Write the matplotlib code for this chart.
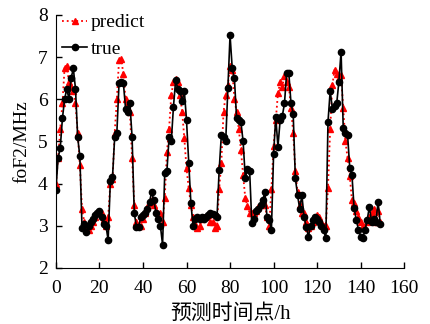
import numpy as np
import matplotlib
matplotlib.use("Agg")
from matplotlib import pyplot as plt

# foF2 观测值（true）与预测值（predict）
true_vals = [
    3.85, 4.6, 4.85, 5.55, 6.0, 6.25, 6.0, 6.5, 6.73, 6.25,
    5.1, 4.65, 2.95, 3.05, 2.85, 3.0, 3.1, 3.15, 3.25, 3.3,
    3.35, 3.2, 3.05, 3.0, 2.66, 4.05, 4.15, 5.1, 5.2, 6.38,
    6.42, 6.38, 5.78, 5.7, 5.9, 5.1, 3.3, 2.98, 2.98, 3.2,
    3.25, 3.3, 3.4, 3.57, 3.8, 3.6, 3.3, 3.15, 3.0, 2.55,
    4.25, 4.3, 5.1, 5.0, 5.82, 6.45, 6.25, 6.2, 5.95, 6.2,
    5.5, 4.5, 3.54, 3.0, 3.15, 3.2, 3.15, 3.2, 3.15, 3.2,
    3.25, 3.3, 3.28, 3.25, 3.2, 4.32, 5.15, 5.1, 5.0, 6.26,
    7.52, 6.73, 6.5, 5.55, 5.5, 5.45, 5.0, 4.13, 4.35, 4.3,
    3.06, 3.17, 3.35, 3.4, 3.5, 3.6, 3.8, 3.2, 3.14, 2.9,
    4.7, 5.58, 4.87, 5.5, 5.6, 5.9, 6.62, 6.62, 5.9, 5.66,
    4.13, 3.73, 3.4, 3.73, 3.2, 2.98, 2.74, 3.0, 3.14, 3.2,
    3.15, 3.1, 3.0, 2.9, 2.7, 5.47, 6.2, 5.78, 5.83, 5.9,
    6.42, 7.13, 5.31, 5.2, 5.15, 4.36, 4.2, 3.41, 3.14, 2.9,
    2.74, 2.7, 2.9, 3.14, 3.45, 3.1, 3.15, 3.1, 3.57, 3.05,
]
predict_vals = [
    4.0, 4.6, 5.3, 5.9, 6.75, 6.8, 6.4, 6.3, 6.2, 5.9,
    5.2, 4.45, 3.4, 3.1, 2.95, 2.9, 3.0, 3.1, 3.2, 3.3,
    3.35, 3.3, 3.15, 3.0, 3.2, 4.0, 4.1, 5.2, 6.0, 6.93,
    6.95, 6.6, 6.0, 5.9, 5.7, 4.6, 3.5, 3.1, 3.0, 3.0,
    3.15, 3.3, 3.45, 3.55, 3.6, 3.5, 3.35, 3.2, 3.3, 3.1,
    3.65, 4.76, 5.3, 6.1, 6.4, 6.48, 6.4, 6.1, 5.7, 5.07,
    4.36, 3.9, 3.5, 3.2, 3.05, 2.95, 3.0, 3.15, 3.2, 3.2,
    3.25, 3.1, 3.1, 2.95, 3.0, 3.88, 4.5, 5.7, 6.1, 6.33,
    6.8, 6.7, 6.0, 5.7, 5.3, 4.8, 4.2, 3.65, 3.47, 3.3,
    3.3, 3.3, 3.35, 3.45, 3.5, 3.6, 3.5, 3.2, 3.0, 3.88,
    4.9, 5.5, 6.14, 6.4, 6.3, 6.55, 6.4, 6.3, 5.8, 5.2,
    4.3, 3.8, 3.5, 3.3, 3.3, 3.1, 2.95, 3.0, 3.1, 3.2,
    3.25, 3.2, 3.1, 3.0, 3.0, 3.9, 5.3, 6.33, 6.7, 6.6,
    6.5, 6.57, 5.8, 5.0, 4.6, 4.17, 3.6, 3.55, 3.35, 3.2,
    3.1, 3.0, 2.95, 3.1, 3.2, 3.3, 3.4, 3.1, 3.35, 3.1,
]
hours = np.arange(len(true_vals))

x_ticks = [0, 20, 40, 60, 80, 100, 120, 140, 160]
y_ticks = [2, 3, 4, 5, 6, 7, 8]

serif = ["Liberation Serif", "Noto Sans CJK SC"]
plt.rcParams["font.family"] = serif

fig = plt.figure(figsize=(4.3, 3.24), dpi=100)
ax = fig.add_axes([0.130, 0.173, 0.810, 0.781])

ax.plot(hours, predict_vals, color="red", linestyle=":", linewidth=1.3,
        marker="^", markersize=4.8, label="predict")
ax.plot(hours, true_vals, color="black", linestyle="-", linewidth=1.2,
        marker="o", markersize=4.5, label="true")

ax.set_xlim(0, 160)
ax.set_ylim(2, 8)
ax.set_xticks(x_ticks)
ax.set_yticks(y_ticks)
ax.tick_params(direction="in", labelsize=14, length=4, width=1)
ax.tick_params(axis="x", pad=9)
ax.tick_params(axis="y", pad=6)
ax.spines["top"].set_visible(False)
ax.spines["right"].set_visible(False)

ax.set_xlabel("预测时间点/h", fontsize=15, labelpad=5)
ax.set_ylabel("foF2/MHz", fontsize=14, labelpad=5)

ax.legend(loc="upper left", bbox_to_anchor=(-0.005, 1.035), frameon=False,
          fontsize=14, handlelength=1.3, handletextpad=0.2,
          labelspacing=0.45, borderaxespad=0)

fig.savefig("out.png", dpi=100)
